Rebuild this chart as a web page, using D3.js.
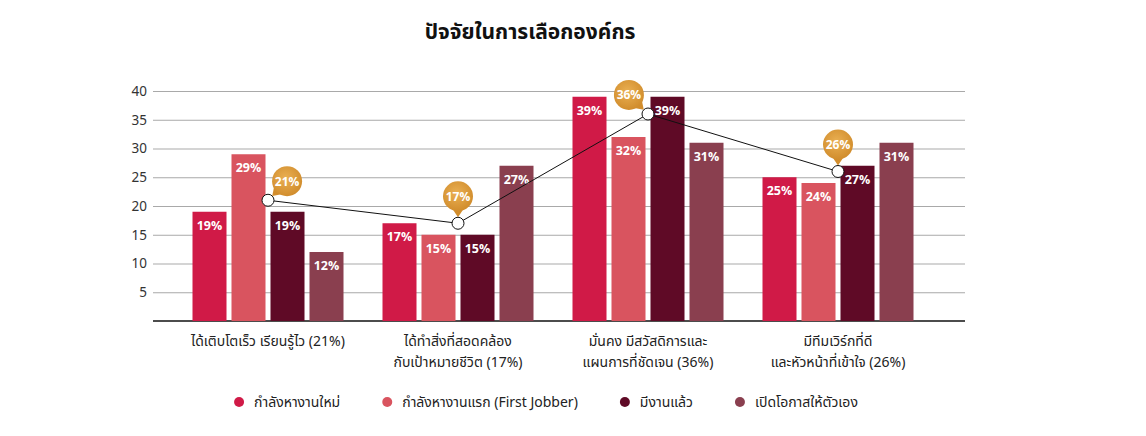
<!DOCTYPE html>
<html>
<head>
<meta charset="utf-8">
<script src="https://cdn.jsdelivr.net/npm/d3@7"></script>
<style>
  body { margin: 0; background: #fff; }
  text { font-family: "Noto Sans Thai", "Leelawadee UI", "Noto Sans", "DejaVu Sans", sans-serif; }
</style>
</head>
<body>
<div id="chart"></div>
<script>
// categories (x groups), each label split into lines
var categories = ["growth", "goal", "stable", "team"];
var categoryLines = [
  ["ได้เติบโตเร็ว เรียนรู้ไว (21%)"],
  ["ได้ทำสิ่งที่สอดคล้อง", "กับเป้าหมายชีวิต (17%)"],
  ["มั่นคง มีสวัสดิการและ", "แผนการที่ชัดเจน (36%)"],
  ["มีทีมเวิร์กที่ดี", "และหัวหน้าที่เข้าใจ (26%)"]
];
var series = ["กำลังหางานใหม่", "กำลังหางานแรก (First Jobber)", "มีงานแล้ว", "เปิดโอกาสให้ตัวเอง"];
var newJobSeekers = [19, 17, 39, 25];
var firstJobbers  = [29, 15, 32, 24];
var employed      = [19, 15, 39, 27];
var selfOpportunity = [12, 27, 31, 31];
var overall = [21, 17, 36, 26];
var yTicks = [5, 10, 15, 20, 25, 30, 35, 40];

var seriesValues = [newJobSeekers, firstJobbers, employed, selfOpportunity];
var colors = ["#d01a47", "#d9545f", "#5f0a26", "#8a3f4f"];

var W = 1146, H = 436;
var gridLeft = 153, gridRight = 965;

var svg = d3.select("#chart").append("svg")
    .attr("width", W)
    .attr("height", H);

var defs = svg.append("defs");
var grad = defs.append("radialGradient").attr("id", "bubbleGrad")
    .attr("cx", "45%").attr("cy", "40%").attr("r", "65%");
grad.append("stop").attr("offset", "0%").attr("stop-color", "#eab053");
grad.append("stop").attr("offset", "100%").attr("stop-color", "#cf8a2a");

// title
svg.append("text")
    .attr("x", 530)
    .attr("y", 39)
    .attr("text-anchor", "middle")
    .style("font-size", "21px")
    .style("font-weight", "bold")
    .style("fill", "#111")
    .text("ปัจจัยในการเลือกองค์กร");

// scales
var y = d3.scaleLinear().domain([0, 40]).range([321, 91]);
var x0 = d3.scaleBand().domain(categories).range([173, 933]);
var x1 = d3.scaleBand().domain(series).range([0, x0.bandwidth()])
    .paddingInner(0.128).paddingOuter(0.5);

// y axis + gridlines
var yAxis = svg.append("g")
    .attr("transform", "translate(" + gridLeft + ",0)")
    .call(d3.axisLeft(y).tickValues(yTicks).tickSize(-(gridRight - gridLeft)).tickPadding(6));
yAxis.select(".domain").remove();
yAxis.selectAll(".tick line").attr("stroke", "#a9a9a9").attr("stroke-width", 1);
yAxis.selectAll(".tick text")
    .style("font-size", "13.5px")
    .style("fill", "#333");

// baseline
svg.append("line")
    .attr("x1", gridLeft).attr("x2", gridRight)
    .attr("y1", y(0)).attr("y2", y(0))
    .attr("stroke", "#111").attr("stroke-width", 1.5);

// bars
var barData = [];
categories.forEach(function(c, i) {
  series.forEach(function(s, j) {
    barData.push({cat: c, ser: s, j: j, value: seriesValues[j][i]});
  });
});

var bars = svg.append("g").selectAll("g")
    .data(barData)
    .enter().append("g");

bars.append("rect")
    .attr("x", function(d) { return x0(d.cat) + x1(d.ser); })
    .attr("y", function(d) { return y(d.value); })
    .attr("width", x1.bandwidth())
    .attr("height", function(d) { return y(0) - y(d.value); })
    .attr("fill", function(d) { return colors[d.j]; });

bars.append("text")
    .attr("x", function(d) { return x0(d.cat) + x1(d.ser) + x1.bandwidth() / 2; })
    .attr("y", function(d) { return y(d.value) + 18; })
    .attr("text-anchor", "middle")
    .style("font-size", "12.5px")
    .style("font-weight", "bold")
    .style("fill", "#fff")
    .text(function(d) { return d.value + "%"; });

// overall line
var points = categories.map(function(c, i) {
  return {cat: c, i: i, value: overall[i], x: x0(c) + x0.bandwidth() / 2, y: y(overall[i])};
});

svg.append("path")
    .datum(points)
    .attr("fill", "none")
    .attr("stroke", "#111")
    .attr("stroke-width", 1)
    .attr("d", d3.line().x(function(d) { return d.x; }).y(function(d) { return d.y; }));

// bubble placement: straight above unless a bar gets in the way
var R = 15, dist = 27;
function collides(cx, cy, i) {
  return barData.some(function(b) {
    if (b.cat !== categories[i]) return false;
    var bx = x0(b.cat) + x1(b.ser);
    var overlapX = bx < cx + R && bx + x1.bandwidth() > cx - R;
    return overlapX && y(b.value) < cy + R + 2;
  });
}
points.forEach(function(p) {
  var opts = [[0, -dist], [dist * 0.707, -dist * 0.707], [-dist * 0.707, -dist * 0.707]];
  var pick = opts[0];
  for (var k = 0; k < opts.length; k++) {
    if (!collides(p.x + opts[k][0], p.y + opts[k][1], p.i)) { pick = opts[k]; break; }
  }
  p.bx = p.x + pick[0];
  p.by = p.y + pick[1];
  p.angle = Math.atan2(-pick[1], -pick[0]) * 180 / Math.PI - 90;
});

var bubbles = svg.append("g").selectAll("g")
    .data(points)
    .enter().append("g")
    .attr("transform", function(d) { return "translate(" + d.bx + "," + d.by + ")"; });

bubbles.append("path")
    .attr("transform", function(d) { return "rotate(" + d.angle + ")"; })
    .attr("d", "M-6,12 L0,21 L6,12 Z")
    .attr("fill", "#d28d2c");

bubbles.append("circle")
    .attr("r", R)
    .attr("fill", "url(#bubbleGrad)");

bubbles.append("text")
    .attr("y", 4.5)
    .attr("text-anchor", "middle")
    .style("font-size", "12px")
    .style("font-weight", "bold")
    .style("fill", "#fff")
    .text(function(d) { return d.value + "%"; });

svg.append("g").selectAll("circle")
    .data(points)
    .enter().append("circle")
    .attr("cx", function(d) { return d.x; })
    .attr("cy", function(d) { return d.y; })
    .attr("r", 6)
    .attr("fill", "#fff")
    .attr("stroke", "#111")
    .attr("stroke-width", 1);

// category labels
var catLabels = svg.append("g").selectAll("text")
    .data(categories)
    .enter().append("text")
    .attr("x", function(c) { return x0(c) + x0.bandwidth() / 2; })
    .attr("y", 346)
    .attr("text-anchor", "middle")
    .style("font-size", "14px")
    .style("fill", "#222");
catLabels.each(function(c, i) {
  var t = d3.select(this);
  categoryLines[i].forEach(function(line, k) {
    t.append("tspan")
      .attr("x", x0(c) + x0.bandwidth() / 2)
      .attr("dy", k === 0 ? 0 : 21)
      .text(line);
  });
});

// legend
var legend = svg.append("g");
var items = legend.selectAll("g")
    .data(series)
    .enter().append("g");
items.append("circle")
    .attr("r", 5)
    .attr("cy", -5)
    .attr("fill", function(d, j) { return colors[j]; });
items.append("text")
    .attr("x", 15)
    .style("font-size", "14px")
    .style("fill", "#222")
    .text(function(d) { return d; });

var gap = 42, xpos = 0, offsets = [];
items.each(function() {
  offsets.push(xpos);
  xpos += this.getBBox().width + gap;
});
var total = xpos - gap;
var startX = 546 - total / 2 + 5;
items.attr("transform", function(d, j) { return "translate(" + (startX + offsets[j]) + ",407)"; });
</script>
</body>
</html>
